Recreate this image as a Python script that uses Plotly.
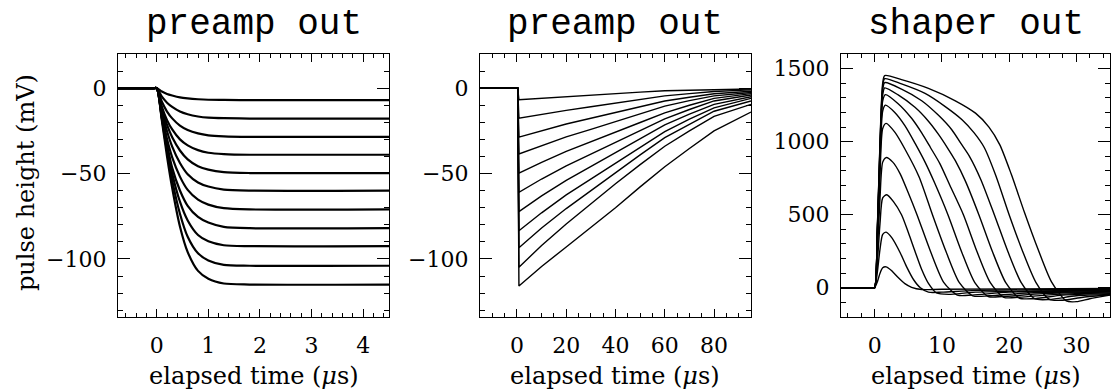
import plotly.graph_objects as go

# ---------------- data ----------------
# Panel 1: preamp out, short time window (microseconds, mV)
T1 = [-0.75, -0.06, 0, 0.1, 0.2, 0.3, 0.45, 0.6, 0.8, 1.0, 1.3, 1.8, 4.5]
p1_c01 = [0, 0, 0, -2.0, -3.4, -4.3, -5.4, -6.0, -6.5, -6.8, -6.9, -7.0, -7.0]
p1_c02 = [0, 0, 0, -5.0, -8.5, -11.0, -13.7, -15.3, -16.6, -17.3, -17.6, -17.8, -17.8]
p1_c03 = [0, 0, 0, -8.0, -13.7, -17.7, -21.9, -24.5, -26.5, -27.6, -28.2, -28.5, -28.5]
p1_c04 = [0, 0, 0, -10.9, -18.7, -24.2, -30.0, -33.5, -36.3, -37.8, -38.6, -39.0, -39.0]
p1_c05 = [0, 0, 0, -12.0, -21.5, -28.8, -36.5, -41.7, -45.7, -47.7, -49.2, -49.7, -49.7]
p1_c06 = [0, 0, 0, -13.5, -25.2, -34.2, -43.8, -50.4, -55.2, -57.6, -59.4, -60.0, -60.0]
p1_c07 = [0, 0, 0, -15.6, -29.8, -40.5, -51.8, -59.6, -65.3, -68.2, -70.3, -71.0, -71.0]
p1_c08 = [0, 0, 0, -17.0, -33.0, -46.7, -59.9, -68.9, -75.4, -78.7, -81.2, -82.0, -82.0]
p1_c09 = [0, 0, 0, -17.5, -34.5, -50.0, -66.5, -77.5, -86.0, -89.7, -92.0, -92.5, -92.5]
p1_c10 = [0, 0, 0, -18.0, -37.0, -54.0, -73.5, -87.0, -96.7, -100.9, -103.5, -104.0, -104.0]
p1_c11 = [0, 0, 0, -19.0, -40.0, -58.5, -81.0, -96.0, -107.0, -111.6, -114.4, -115.0, -115.0]
P1 = [p1_c01, p1_c02, p1_c03, p1_c04, p1_c05, p1_c06, p1_c07, p1_c08, p1_c09, p1_c10, p1_c11]

# Panel 2: preamp out, long time window
T2 = [-15, 0.3, 0.8, 10, 20, 30, 40, 50, 60, 70, 80, 95]
p2_c01 = [0, 0, -6.8, -5.9, -5.0, -4.15, -3.3, -2.35, -1.5, -1.1, -0.8, -0.5]
p2_c02 = [0, 0, -17.6, -15.3, -13.0, -10.9, -8.8, -6.6, -4.5, -3.2, -2.0, -1.0]
p2_c03 = [0, 0, -28.7, -24.8, -21.0, -17.6, -14.2, -10.8, -7.5, -5.3, -3.3, -1.8]
p2_c04 = [0, 0, -38.5, -33.5, -28.5, -24.1, -19.7, -15.0, -10.5, -7.3, -4.5, -2.5]
p2_c05 = [0, 0, -49.8, -43.4, -37.0, -31.5, -26.0, -20.1, -14.5, -10.0, -6.0, -3.2]
p2_c06 = [0, 0, -61.0, -53.2, -45.5, -38.7, -32.0, -24.8, -18.0, -12.5, -7.5, -4.0]
p2_c07 = [0, 0, -72.3, -63.1, -54.0, -46.0, -38.0, -29.6, -21.5, -15.2, -9.5, -5.0]
p2_c08 = [0, 0, -83.5, -73.0, -62.5, -53.2, -44.0, -34.6, -25.5, -18.2, -11.5, -6.0]
p2_c09 = [0, 0, -93.4, -81.9, -70.5, -59.9, -49.5, -39.1, -29.0, -21.0, -13.5, -7.5]
p2_c10 = [0, 0, -104.9, -92.1, -79.5, -67.6, -56.0, -44.8, -34.0, -25.0, -16.5, -9.5]
p2_c11 = [0, 0, -115.9, -104.4, -93.0, -81.5, -70.0, -57.8, -46.0, -35.3, -25.0, -14.0]
P2 = [p2_c01, p2_c02, p2_c03, p2_c04, p2_c05, p2_c06, p2_c07, p2_c08, p2_c09, p2_c10, p2_c11]

# Panel 3: shaper out (each pulse has its own time samples)
p3_t01 = [-5, -0.3, 0, 0.4, 0.8, 1.2, 1.7, 2.5, 3.5, 4.5, 5.5, 7, 10, 35]
p3_v01 = [0, 0, 0, 40, 100, 137, 143, 118, 70, 28, 3, -12, -10, -5]
p3_t02 = [-5, -0.3, 0, 0.4, 0.8, 1.2, 1.7, 2.6, 3.8, 4.8, 5.8, 6.8, 8, 10, 15, 35]
p3_v02 = [0, 0, 0, 105, 265, 365, 381, 340, 240, 140, 55, 0, -30, -30, -18, -10]
p3_t03 = [-5, -0.3, 0, 0.4, 0.8, 1.2, 1.8, 2.8, 4.0, 5.0, 6.0, 7.0, 8.0, 9.2, 11, 15, 35]
p3_v03 = [0, 0, 0, 175, 440, 615, 637, 590, 500, 380, 250, 125, 30, -35, -45, -30, -15]
p3_t04 = [-5, -0.3, 0, 0.4, 0.8, 1.2, 1.7, 2.7, 3.8, 5.0, 6.3, 8.3, 10.3, 12.3, 14.5, 20, 35]
p3_v04 = [0, 0, 0, 245, 615, 860, 891, 860, 780, 650, 500, 250, 35, -50, -50, -30, -20]
p3_t05 = [-5, -0.3, 0, 0.4, 0.8, 1.2, 1.7, 3.0, 4.5, 6.6, 8.6, 10.6, 12.6, 14.6, 17, 23, 35]
p3_v05 = [0, 0, 0, 310, 775, 1090, 1125, 1065, 950, 760, 500, 250, 35, -55, -55, -35, -25]
p3_t06 = [-5, -0.3, 0, 0.4, 0.8, 1.2, 1.6, 3.0, 4.5, 6.0, 7.5, 8.9, 10.9, 12.9, 14.9, 16.9, 19, 25, 35]
p3_v06 = [0, 0, 0, 345, 860, 1210, 1250, 1200, 1110, 990, 860, 720, 500, 250, 35, -60, -60, -40, -30]
p3_t07 = [-5, -0.3, 0, 0.4, 0.8, 1.2, 1.6, 3.5, 5.5, 7.0, 8.3, 9.7, 11.2, 13.2, 15.2, 17.2, 19.2, 21.5, 27, 35]
p3_v07 = [0, 0, 0, 365, 910, 1280, 1322, 1260, 1160, 1060, 960, 850, 700, 500, 250, 35, -65, -65, -45, -35]
p3_t08 = [-5, -0.3, 0, 0.4, 0.8, 1.2, 1.5, 3.5, 6, 8, 9.5, 10.8, 12, 13.5, 15.5, 17.5, 19.5, 21.5, 23.5, 28, 35]
p3_v08 = [0, 0, 0, 375, 940, 1320, 1368, 1320, 1235, 1140, 1050, 960, 870, 730, 500, 250, 35, -70, -75, -50, -40]
p3_t09 = [-5, -0.3, 0, 0.4, 0.8, 1.2, 1.5, 4, 7, 9.5, 11.5, 12.8, 14.1, 15.8, 17.8, 19.8, 21.8, 23.8, 26, 30, 35]
p3_v09 = [0, 0, 0, 385, 965, 1355, 1404, 1360, 1280, 1180, 1080, 990, 900, 740, 500, 250, 35, -75, -80, -55, -45]
p3_t10 = [-5, -0.3, 0, 0.4, 0.8, 1.2, 1.5, 4, 7.5, 10.5, 13, 14.8, 16.3, 18, 20, 22, 24, 26, 28, 31, 35]
p3_v10 = [0, 0, 0, 395, 985, 1380, 1431, 1395, 1330, 1240, 1150, 1060, 960, 770, 500, 250, 35, -80, -85, -65, -48]
p3_t11 = [-5, -0.3, 0, 0.4, 0.8, 1.2, 1.5, 4, 8, 12, 15, 17, 18.6, 20.3, 22.3, 24.3, 26.3, 28.5, 30, 32, 35]
p3_v11 = [0, 0, 0, 400, 1000, 1400, 1452, 1425, 1365, 1280, 1195, 1100, 980, 780, 513, 263, 40, -90, -95, -75, -50]
P3 = [(p3_t01, p3_v01), (p3_t02, p3_v02), (p3_t03, p3_v03), (p3_t04, p3_v04),
      (p3_t05, p3_v05), (p3_t06, p3_v06), (p3_t07, p3_v07), (p3_t08, p3_v08),
      (p3_t09, p3_v09), (p3_t10, p3_v10), (p3_t11, p3_v11)]

titles = ["preamp out", "preamp out", "shaper out"]
xlabel = "elapsed time (<i>μ</i>s)"
ylabel = "pulse height (mV)"

# ---------------- figure ----------------
W, H = 1112, 390
fig = go.Figure()

for ys in P1:
    fig.add_trace(go.Scatter(x=T1, y=ys, mode="lines", xaxis="x", yaxis="y",
                             line=dict(color="black", width=2.2, shape="spline", smoothing=0.7),
                             showlegend=False, hoverinfo="skip"))
for ys in P2:
    fig.add_trace(go.Scatter(x=T2, y=ys, mode="lines", xaxis="x2", yaxis="y2",
                             line=dict(color="black", width=1.4),
                             showlegend=False, hoverinfo="skip"))
for ts, vs in P3:
    fig.add_trace(go.Scatter(x=ts, y=vs, mode="lines", xaxis="x3", yaxis="y3",
                             line=dict(color="black", width=1.4, shape="spline", smoothing=0.7),
                             showlegend=False, hoverinfo="skip"))

tickfont = dict(family="DejaVu Serif", size=22, color="black")
panels_px = [(118, 389), (480, 751), (841, 1110)]
ydom = [(H - 317) / H, (H - 54) / H]

def xaxis(dom, rng, tickvals, minor_dtick, anchor):
    return dict(domain=[dom[0] / W, dom[1] / W], range=rng, anchor=anchor,
                tickmode="array", tickvals=tickvals, ticks="inside", ticklen=8, tickwidth=1.2,
                tickcolor="black", showline=True, linecolor="black", linewidth=1.4, mirror="ticks",
                showgrid=False, zeroline=False, tickfont=tickfont, ticklabelstandoff=8,
                minor=dict(dtick=minor_dtick, tick0=0, ticks="inside", ticklen=4, tickwidth=1.1,
                           tickcolor="black", showgrid=False))

def yaxis(rng, tickvals, minor_dtick, anchor):
    return dict(domain=ydom, range=rng, anchor=anchor,
                tickmode="array", tickvals=tickvals, ticks="inside", ticklen=12, tickwidth=1.2,
                tickcolor="black", showline=True, linecolor="black", linewidth=1.4, mirror="ticks",
                showgrid=False, zeroline=False, tickfont=tickfont, ticklabelstandoff=6,
                minor=dict(dtick=minor_dtick, tick0=0, ticks="inside", ticklen=5, tickwidth=1.1,
                           tickcolor="black", showgrid=False))

fig.update_layout(
    width=W, height=H, margin=dict(l=0, r=0, t=0, b=0),
    paper_bgcolor="white", plot_bgcolor="white",
    xaxis=xaxis(panels_px[0], [-0.75, 4.5], [0, 1, 2, 3, 4], 0.2, "y"),
    yaxis=yaxis([-134, 20], [-100, -50, 0], 10, "x"),
    xaxis2=xaxis(panels_px[1], [-15, 95], [0, 20, 40, 60, 80], 5, "y2"),
    yaxis2=yaxis([-134, 20], [-100, -50, 0], 10, "x2"),
    xaxis3=xaxis(panels_px[2], [-5, 35], [0, 10, 20, 30], 2, "y3"),
    yaxis3=yaxis([-200, 1600], [0, 500, 1000, 1500], 100, "x3"),
)

annotations = []
for (a, b), t in zip(panels_px, titles):
    cx = (a + b) / 2 / W
    annotations.append(dict(text=t, x=cx, y=(H - 25) / H, xref="paper", yref="paper",
                            showarrow=False, xanchor="center", yanchor="middle",
                            font=dict(family="Liberation Mono", size=36, color="black")))
    annotations.append(dict(text=xlabel, x=cx, y=(H - 376) / H, xref="paper", yref="paper",
                            showarrow=False, xanchor="center", yanchor="middle",
                            font=dict(family="DejaVu Serif", size=24, color="black")))
annotations.append(dict(text=ylabel, x=26 / W, y=(H - 183) / H, xref="paper", yref="paper",
                        showarrow=False, xanchor="center", yanchor="middle", textangle=-90,
                        font=dict(family="DejaVu Serif", size=24, color="black")))
fig.update_layout(annotations=annotations)

fig.write_html("out.html")
